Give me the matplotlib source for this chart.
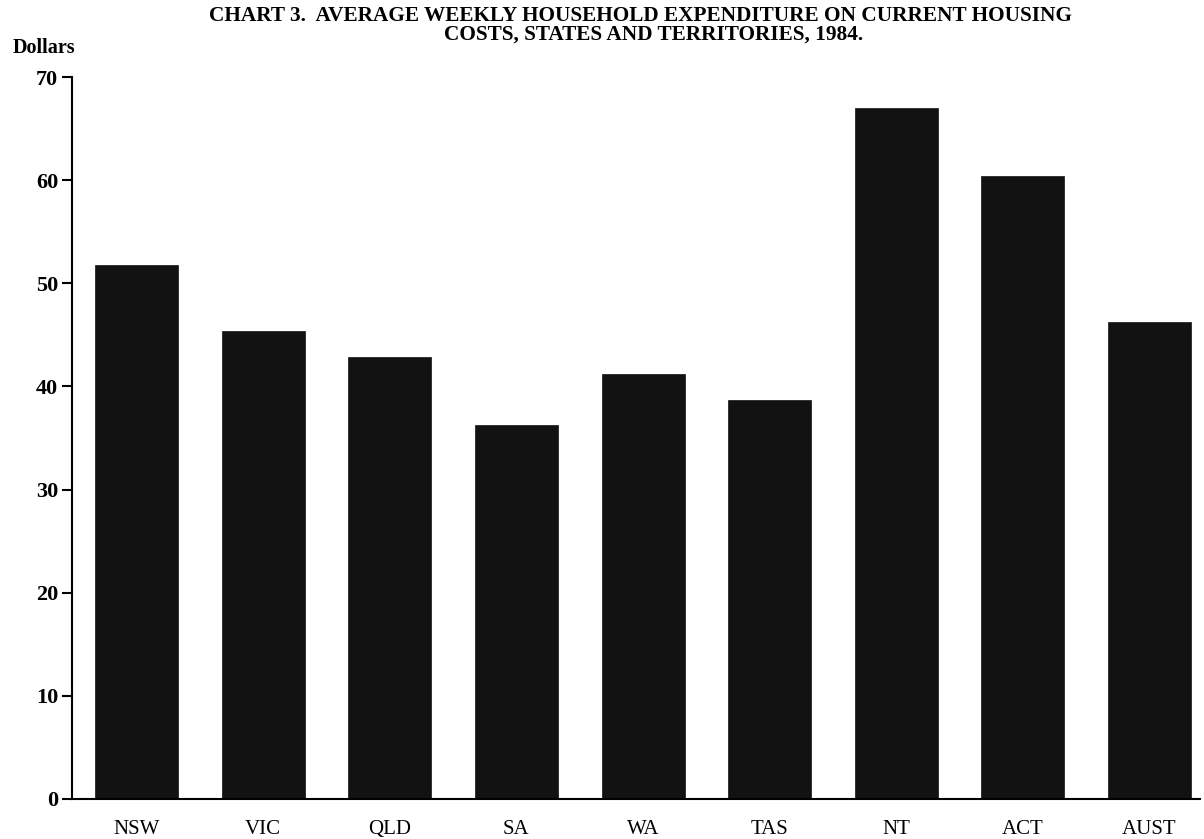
import matplotlib
matplotlib.use('Agg')
import matplotlib.pyplot as plt

plt.rcParams['font.family'] = ['Liberation Serif', 'DejaVu Serif']

# 数据
regions = ['NSW', 'VIC', 'QLD', 'SA', 'WA', 'TAS', 'NT', 'ACT', 'AUST']
dollars = [51.8, 45.4, 42.9, 36.3, 41.2, 38.7, 67.0, 60.4, 46.2]
yticks = [0, 10, 20, 30, 40, 50, 60, 70]

fig = plt.figure(figsize=(12.04, 8.39), dpi=100)
ax = fig.add_axes([0.0598, 0.0477, 0.937, 0.8605])

x = range(len(regions))
ax.bar(x, dollars, width=0.655, color='#121212', edgecolor='#121212', linewidth=0.5)

ax.set_xlim(-0.51, 8.40)
ax.set_ylim(0, 70)
ax.set_yticks(yticks)
ax.set_yticklabels([str(v) for v in yticks], fontsize=16, fontweight='bold')
ax.set_xticks(list(x))
ax.set_xticklabels(regions, fontsize=15)

ax.spines['top'].set_visible(False)
ax.spines['right'].set_visible(False)
ax.spines['left'].set_linewidth(1.5)
ax.spines['bottom'].set_linewidth(1.5)
ax.tick_params(axis='y', length=7, width=1.5, pad=3, direction='out')
ax.tick_params(axis='x', length=0, pad=15)

# 标题和单位
fig.text(0.532, 1 - 16 / 839,
         'CHART 3.  AVERAGE WEEKLY HOUSEHOLD EXPENDITURE ON CURRENT HOUSING',
         ha='center', va='center', fontsize=15.3, fontweight='bold')
fig.text(0.543, 1 - 35 / 839,
         'COSTS, STATES AND TERRITORIES, 1984.',
         ha='center', va='center', fontsize=15.3, fontweight='bold')
fig.text(13 / 1204, 1 - 48 / 839, 'Dollars', ha='left', va='center',
         fontsize=14.5, fontweight='bold')

fig.savefig('out.png', dpi=100)
